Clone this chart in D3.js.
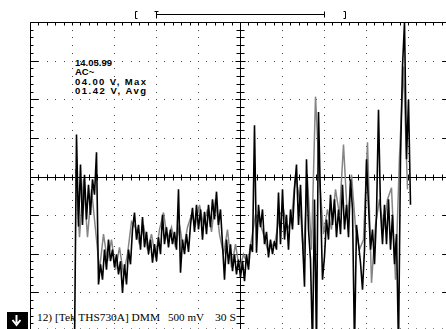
<!DOCTYPE html>
<html>
<head>
<meta charset="utf-8">
<script src="https://cdn.jsdelivr.net/npm/d3@7"></script>
<style>
  html, body { margin: 0; padding: 0; background: #fff; }
  svg { display: block; }
</style>
</head>
<body>
<svg id="scope" width="446" height="329"></svg>
<script>
// scope settings
const secondsPerDiv = 30
const voltsPerDiv = 0.5
const sampleDt = secondsPerDiv / 21   // 21 samples per division
const blackStart = 22                  // sample index of first black point
const grayStart = 22.5
const grayStep = 2

const infoLines = ["14.05.99", "AC~", "04.00 V, Max", "01.42 V, Avg"]
const footerParts = ["12) [Tek THS730A] DMM", "500 mV", "30 S"]

// trace (volts)
const blackTrace = [
  -2.2, 0.55, -0.64, 0.16, -0.62, 0.03, -0.55, -0.10, -0.49, -0.03,
  -0.23, 0.32, -1.39, -1.13, -1.33, -0.94, -1.20, -0.81, -1.09, -0.94,
  -1.17, -1.00, -1.26, -1.09, -1.50, -1.13, -1.39, -0.94, -1.13, -0.68,
  -0.46, -0.81, -0.62, -0.94, -0.52, -0.91, -0.71, -1.00, -0.81, -1.11,
  -0.87, -1.09, -0.78, -1.00, -0.49, -0.87, -0.65, -0.91, -0.68, -0.87,
  -0.71, -0.94, -0.16, -1.24, -0.81, -1.00, -0.74, -0.97, -0.62, -0.40,
  -0.71, -0.36, -0.68, -0.42, -0.81, -0.45, -0.74, -0.36, -0.65, -0.29,
  -0.55, -0.19, -0.62, -0.42, -0.87, -1.33, -0.81, -1.13, -0.87, -1.22,
  -1.00, -1.26, -1.07, -1.30, -1.09, -1.35, -1.00, -1.20, -0.87, -0.97,
  0.67, -0.98, -0.36, -0.65, -0.42, -0.87, -0.71, -1.04, -0.81, -1.00,
  -0.83, -0.94, -0.20, -0.87, -0.16, -0.81, -0.49, -0.94, -0.42, -0.68,
  -0.16, 0.16, -0.62, -0.10, -0.81, -1.42, 0.23, -0.68, -1.07, -2.2,
  -0.29, -2.2, 0.84, -0.29, -1.33, -1.03, -0.55, -0.81, -0.23, -0.62,
  -0.29, -0.78, -0.42, -0.74, -0.10, -0.68, -0.36, -0.78, -0.03, -0.42,
  -2.2, -0.62, -0.87, -1.11, -1.46, -0.94, 0.23, -0.36, -0.94, -0.68,
  -1.13, -0.49, 0.87, -0.42, -0.87, -0.36, -0.87, -0.29, -0.94, -0.49,
  -1.13, -0.74, -2.2, 0.23, 1.43, 2.0, 0.23, 1.00, -0.36
]

const grayTrace = [
  0.10, -0.78, -0.03, -0.78, -0.16, -0.68, -1.20, -0.74, -1.09, -0.81,
  -1.20, -0.91, -1.26, -1.00, -0.58, -0.65, -0.87, -0.62, -0.94, -0.74,
  -1.04, -0.68, -0.46, -0.81, -0.65, -0.91, -0.62, -0.94, -0.65, -0.49,
  -0.62, -0.36, -0.62, -0.42, -0.71, -0.29, -0.74, -1.00, -0.68, -1.17,
  -0.87, -1.20, -1.00, -1.13, -0.81, -0.49, -0.58, -0.74, -0.94, -0.91,
  -0.81, -0.49, -0.42, -0.68, -0.55, 0.03, -0.29, -1.00, -0.03, -0.94,
  1.04, -0.03, -0.74, -0.42, -0.68, -0.16, -0.49, 0.42, -0.55, 0.03,
  -0.65, -0.94, -0.81, 0.45, -1.37, -0.62, -0.29, -0.68, -0.29, -0.14,
  -1.33, 0.27, 1.43, -0.16
]

const svg = d3.select("#scope")

const x = d3.scaleLinear()
  .domain([0, 10 * secondsPerDiv])
  .range([30.5, 450.5])

const y = d3.scaleLinear()
  .domain([-4 * voltsPerDiv, 4 * voltsPerDiv])
  .range([331.5, 22.5])

const divT = d3.range(0, 11).map(d => d * secondsPerDiv)
const divV = d3.range(-4, 5).map(d => d * voltsPerDiv)
const minorT = d3.range(0, 51).map(d => d * secondsPerDiv / 5)
const minorV = d3.range(-20, 21).map(d => d * voltsPerDiv / 5)

const snap = v => Math.round(v - 0.5) + 0.5

drawGraticule()
drawTraces()
drawLabels()

function drawGraticule() {
  const g = svg.append("g")

  // dotted grid
  const dots = []
  divT.slice(1, -1).filter(t => t !== 150).forEach(t =>
    minorV.forEach(v => dots.push([x(t), y(v)])))
  divV.slice(1, -1).filter(v => v !== 0).forEach(v =>
    minorT.forEach(t => dots.push([x(t), y(v)])))
  g.append("g")
    .selectAll("rect")
    .data(dots)
    .join("rect")
    .attr("x", d => Math.round(d[0] - 0.5))
    .attr("y", d => Math.round(d[1] - 0.5))
    .attr("width", 1)
    .attr("height", 1)
    .attr("fill", "#444")

  const lines = g.append("g").attr("stroke", "#000").attr("stroke-width", 1)
  const line = (x1, y1, x2, y2) => lines.append("line")
    .attr("x1", x1).attr("y1", y1).attr("x2", x2).attr("y2", y2)

  // border + centre axes
  line(x(0), y(2), x(300), y(2))
  line(x(0), y(2), x(0), y(-2))
  line(x(300), y(2), x(300), y(-2))
  line(x(0), y(-2), x(300), y(-2))
  line(x(0), snap(y(0)), x(300), snap(y(0)))
  line(x(150), y(2), x(150), y(-2))

  minorT.forEach(t => {
    const px = snap(x(t))
    line(px, y(2), px, y(2) + 3)
    line(px, y(-2), px, y(-2) - 3)
    line(px, snap(y(0)) - 3, px, snap(y(0)) + 3)
  })
  minorV.forEach((v, i) => {
    const py = snap(y(v))
    const major = i % 5 === 0
    line(x(0), py, x(0) + (major ? 8 : 3), py)
    line(x(300), py, x(300) - (major ? 8 : 3), py)
    line(x(150) - (major ? 5 : 4), py, x(150) + (major ? 5 : 4), py)
  })

  // record window marker above the graticule
  const m = svg.append("g").attr("stroke", "#000").attr("fill", "none")
  m.append("path").attr("d", `M${snap(x(75)) + 2},11.5H${snap(x(75))}V18.5H${snap(x(75)) + 2}`)
  m.append("path").attr("d", `M${snap(x(225)) - 2},11.5H${snap(x(225))}V18.5H${snap(x(225)) - 2}`)
  m.append("path").attr("d", `M${x(90) - 2},11.5H${x(90) + 2}M${x(90)},11.5V18.5M${x(90)},14.5H${x(210)}M${x(210)},11.5V17.5`)
}

function drawTraces() {
  const clip = svg.append("clipPath").attr("id", "screen")
  clip.append("rect").attr("x", x(0)).attr("y", y(2)).attr("width", 420).attr("height", 310)

  const line = d3.line().x(d => x(d[0])).y(d => y(d[1]))

  const grayPts = grayTrace.map((v, i) => [(grayStart + i * grayStep) * sampleDt, v])
  const blackPts = blackTrace.map((v, i) => [(blackStart + i) * sampleDt, v])

  svg.append("path")
    .attr("clip-path", "url(#screen)")
    .attr("d", line(grayPts))
    .attr("fill", "none")
    .attr("stroke", "#858585")
    .attr("stroke-width", 1.5)

  svg.append("path")
    .attr("clip-path", "url(#screen)")
    .attr("d", line(blackPts))
    .attr("fill", "none")
    .attr("stroke", "#000")
    .attr("stroke-width", 1.6)
}

function drawLabels() {
  const widths = [null, null, 71, 71]
  svg.append("g")
    .selectAll("text")
    .data(infoLines)
    .join("text")
    .attr("x", 75)
    .attr("y", (d, i) => 65.5 + i * 9.6)
    .attr("textLength", (d, i) => widths[i])
    .attr("lengthAdjust", "spacing")
    .style("font-family", "'Liberation Sans', Arial, sans-serif")
    .style("font-weight", "bold")
    .style("font-size", "9.5px")
    .text(d => d)

  // bottom status line
  const fx = [37, 168, 215]
  const fw = [123, 36, 21]
  svg.append("g")
    .selectAll("text")
    .data(footerParts)
    .join("text")
    .attr("x", (d, i) => fx[i])
    .attr("y", 321)
    .attr("textLength", (d, i) => fw[i])
    .attr("lengthAdjust", "spacingAndGlyphs")
    .style("font-family", "'Liberation Serif', 'Times New Roman', serif")
    .style("font-size", "11px")
    .text(d => d)

  // down-arrow softkey
  svg.append("rect").attr("x", 7).attr("y", 312).attr("width", 21).attr("height", 17).attr("fill", "#000")
  svg.append("path")
    .attr("d", "M16.5,315V323M12.5,320L16.5,325L20.5,320")
    .attr("stroke", "#fff")
    .attr("stroke-width", 2)
    .attr("fill", "none")
}
</script>
</body>
</html>
